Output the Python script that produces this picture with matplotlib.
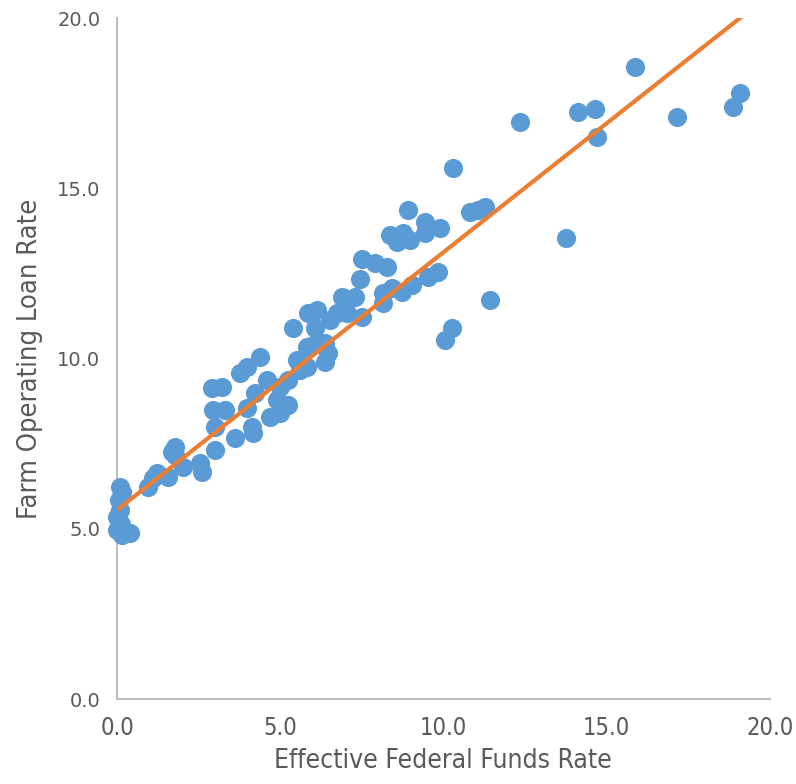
import numpy as np
import matplotlib
matplotlib.use('Agg')
import matplotlib.pyplot as plt

# effective federal funds rate vs farm operating loan rate
fed_funds = [0.09, 0.15, 0.06, 0.09, 0.00, 0.12, 0.00, 0.15, 0.40,
             0.95, 1.10, 1.23, 1.56, 1.78, 1.68, 1.78, 2.02, 2.54, 2.60,
             3.00, 2.91, 3.22, 2.94, 3.31, 3.00, 3.61, 4.13, 4.17, 3.98,
             4.23, 4.59, 3.77, 3.98, 4.38, 4.69, 4.99, 5.24, 4.99, 5.24,
             4.90, 5.39, 5.51, 5.60, 5.82, 5.82, 6.00, 6.37, 6.46, 6.37,
             5.85, 6.13, 6.06, 6.52, 6.74, 7.04, 7.50, 6.89, 7.29, 7.44,
             7.50, 7.90, 8.27, 8.15, 8.42, 8.15, 8.73, 9.04, 9.53, 9.83,
             8.36, 8.76, 8.58, 8.97, 9.43, 9.43, 9.89, 8.91, 10.81, 11.06,
             11.27, 10.29, 11.42, 10.26, 10.05, 13.75, 12.34, 14.12, 14.64,
             14.70, 15.87, 17.15, 18.87, 19.08]
loan_rate = [6.23, 6.08, 5.84, 5.55, 5.35, 5.14, 4.96, 4.82, 4.88,
             6.23, 6.49, 6.64, 6.52, 7.40, 7.25, 7.17, 6.81, 6.93, 6.67,
             7.31, 9.13, 9.16, 8.49, 8.49, 7.99, 7.67, 7.99, 7.81, 8.55,
             8.99, 9.37, 9.57, 9.75, 10.04, 8.28, 8.40, 8.63, 9.16, 9.37,
             8.78, 10.90, 9.96, 9.66, 9.75, 10.34, 10.40, 10.46, 10.16, 9.90,
             11.34, 11.42, 10.90, 11.13, 11.34, 11.34, 11.22, 11.81, 11.81, 12.33,
             12.92, 12.80, 12.69, 11.92, 12.07, 11.63, 11.95, 12.16, 12.39, 12.54,
             13.63, 13.69, 13.42, 13.48, 13.69, 14.01, 13.83, 14.36, 14.30, 14.36,
             14.45, 15.59, 11.72, 10.90, 10.54, 13.54, 16.95, 17.24, 17.33,
             16.51, 18.56, 17.09, 17.39, 17.80]

# linear trendline as drawn on the chart
trend_intercept = 5.55
trend_slope = 0.757

ticks = [0, 5, 10, 15, 20]
tick_labels = ['0.0', '5.0', '10.0', '15.0', '20.0']


def main():
    fig = plt.figure(figsize=(7.96, 7.84), dpi=100)
    ax = fig.add_axes([0.147, 0.1084, 0.82, 0.8686])

    ax.scatter(fed_funds, loan_rate, s=190, color='#5B9BD5', linewidths=0,
               zorder=2, clip_on=False)

    xs = np.array([0, max(fed_funds)])
    ax.plot(xs, trend_slope * xs + trend_intercept, color='#ED7D31', lw=3, zorder=3)

    ax.set_xlim(0, 20)
    ax.set_ylim(0, 20)
    ax.set_xticks(ticks)
    ax.set_xticklabels(tick_labels)
    ax.set_yticks(ticks)
    ax.set_yticklabels(tick_labels)

    for spin in ['top', 'right']:
        ax.spines[spin].set_visible(False)
    for spin in ['left', 'bottom']:
        ax.spines[spin].set_color('#BFBFBF')
        ax.spines[spin].set_linewidth(1.5)
        ax.spines[spin].set_zorder(1)

    ax.tick_params(length=0, labelsize=14, labelcolor='#595959', pad=12)
    for lab in ax.get_xticklabels():
        lab.set_fontstretch('condensed')
        lab.set_fontsize(17)

    ax.set_xlabel('Effective Federal Funds Rate', fontsize=19, color='#595959',
                  fontstretch='condensed', labelpad=6)
    ax.set_ylabel('Farm Operating Loan Rate', fontsize=19.5, color='#595959',
                  fontstretch='condensed', labelpad=10)

    fig.savefig('out.png', dpi=100)


if __name__ == '__main__':
    main()
